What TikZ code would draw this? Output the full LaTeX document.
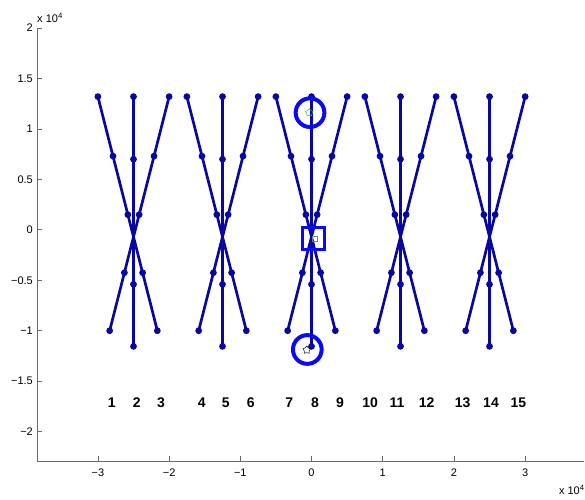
\documentclass[tikz,border=0pt]{standalone}
\usepackage{fontspec}
\setmainfont{Liberation Sans}
\usetikzlibrary{shapes.geometric}

\definecolor{plotblue}{RGB}{8,8,160}
\definecolor{markblue}{RGB}{10,10,250}
\definecolor{axisgray}{RGB}{105,105,105}
\definecolor{stargreen}{RGB}{40,200,40}

\begin{document}
\begin{tikzpicture}[
  x=71.2pt, y=100.9pt,
  pole/.style={plotblue, line width=2.7pt},
  dot/.style={circle, fill=plotblue, inner sep=0pt, minimum size=6.8pt},
  ring/.style={circle, draw=markblue, line width=4pt, minimum size=28.7pt, inner sep=0pt},
  boxmark/.style={draw=markblue, line width=3.3pt, minimum size=22.2pt, inner sep=0pt},
  smallstar/.style={star, star points=5, line width=0.5pt, minimum size=8pt, inner sep=0pt},
  axisline/.style={axisgray, line width=0.8pt},
  ticklab/.style={font=\fontsize{11}{13}\selectfont, inner sep=0pt},
  num/.style={font=\fontsize{14}{16}\selectfont\bfseries, inner sep=0pt}
]
\useasboundingbox (-4.375,-2.668) rectangle (3.841,2.2775);

% axes
\coordinate (ytop) at (-3.855,2);
\coordinate (orig) at (-3.855,-2.291);
\coordinate (xend) at (3.82,-2.291);
\draw[axisline] (ytop) -- (orig) -- (xend);
\foreach \v/\t in {2/2, 1.5/1.5, 1/1, 0.5/0.5, 0/0, -0.5/−0.5, -1/−1, -1.5/−1.5, -2/−2} {
  \draw[axisline] (-3.855,\v) -- ++(5pt,0);
  \node[ticklab, anchor=east] (yl\t) at ([xshift=-4pt]-3.855,\v) {\t};
}
\foreach \v/\t in {-3/−3, -2/−2, -1/−1, 0/0, 1/1, 2/2, 3/3} {
  \draw[axisline] (\v,-2.291) -- ++(0,5pt);
  \node[ticklab] (xl\t) at ([yshift=-12pt]\v,-2.291) {\t};
}
\node[ticklab, anchor=west] (yexp) at (-3.855,2.099) {x 10\textsuperscript{4}};
\node[ticklab, anchor=east] (xexp) at (3.838,-2.575) {x 10\textsuperscript{4}};

% five crossed bundles
\foreach \cx [count=\g] in {-2.5,-1.25,0,1.25,2.5} {
  \foreach \yy [count=\k] in {1.32,0.73,0.15,-0.425,-1.0} {
    \node[dot] (l\g-\k) at ({\cx-0.36*(\yy+0.07)},\yy) {};
    \node[dot] (r\g-\k) at ({\cx+0.36*(\yy+0.07)},\yy) {};
  }
  \foreach \yy [count=\k] in {1.32,0.70,-0.54,-1.155} {
    \node[dot] (m\g-\k) at (\cx,\yy) {};
  }
  \draw[pole] (l\g-1.center) -- (l\g-5.center);
  \draw[pole] (r\g-1.center) -- (r\g-5.center);
  \draw[pole] (m\g-1.center) -- (m\g-4.center);
}

% numbers
\foreach \px [count=\n] in {-2.806,-2.455,-2.114,-1.542,-1.205,-0.854,-0.312,0.049,0.400,0.822,1.201,1.618,2.124,2.521,2.904} {
  \node[num] (n\n) at (\px,-1.710) {\n};
}

% marks on the middle bundle
\node[ring] (ctop) at (-0.021,1.161) {};
\node[smallstar, draw=stargreen] (stop) at (-0.031,1.161) {};
\node[boxmark] (cmid) at (0.025,-0.086) {};
\node[draw=gray, line width=0.5pt, minimum size=5pt, inner sep=0pt] (smid) at (0.045,-0.084) {};
\node[ring] (cbot) at (-0.059,-1.186) {};
\node[smallstar, draw=black] (sbot) at (-0.067,-1.191) {};
\end{tikzpicture}
\end{document}
